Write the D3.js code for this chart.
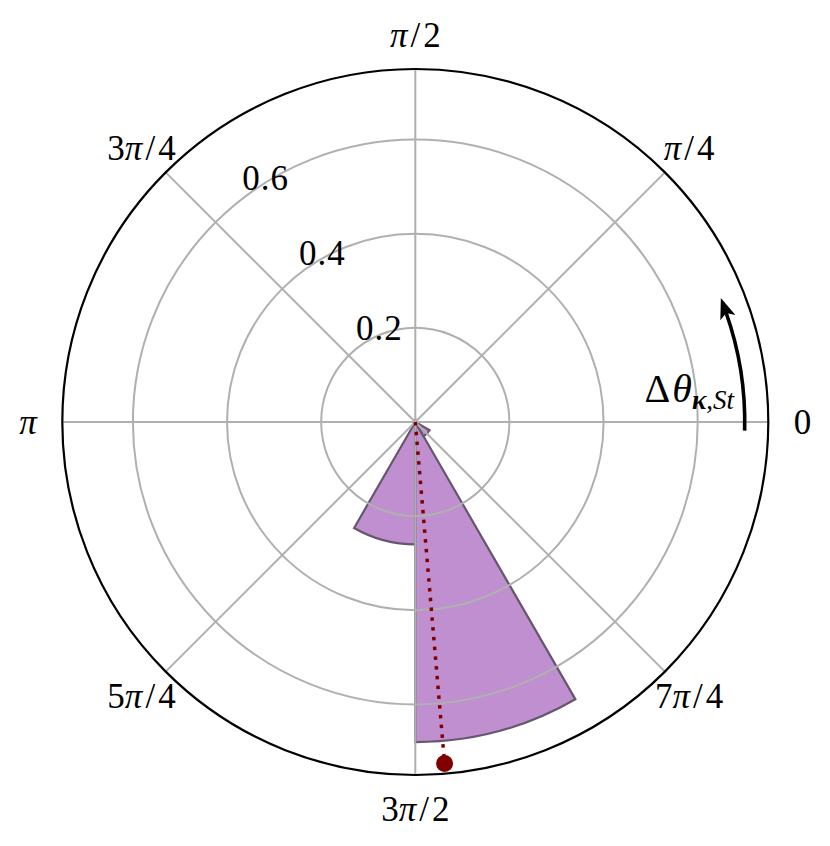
<!DOCTYPE html>
<html>
<head>
<meta charset="utf-8">
<script src="https://cdn.jsdelivr.net/npm/d3@7"></script>
<style>
  html, body { margin: 0; padding: 0; background: #fff; }
  svg { display: block; }
  text { font-family: "Liberation Serif", "DejaVu Serif", serif; fill: #000; }
</style>
</head>
<body>
<div id="chart"></div>
<script>
// ---- data ----
const binStartsDeg = [0, 30, 60, 90, 120, 150, 180, 210, 240, 270, 300, 330];
const binWidthDeg = 30;
const binValues = [0, 0, 0, 0, 0, 0, 0, 0, 0.26, 0.68, 0.035, 0];
const angleTicksDeg = [0, 45, 90, 135, 180, 225, 270, 315];
const angleTickLabels = ["0", "π/4", "π/2", "3π/4", "π", "5π/4", "3π/2", "7π/4"];
const radialTicks = [0.2, 0.4, 0.6];
const radialTickLabels = ["0.2", "0.4", "0.6"];
const rMax = 0.75;
const meanAngleDeg = 274.9;
const meanR = 0.728;
const arrowR = 0.70;
const arrowFromDeg = -1.5;
const arrowToDeg = 19.5;

// ---- layout ----
const W = 830, H = 846;
const cx = 415.3, cy = 422, R = 353;
const deg = Math.PI / 180;

const svg = d3.select("#chart").append("svg").attr("width", W).attr("height", H);
const g = svg.append("g").attr("transform", `translate(${cx},${cy})`);

const r = d3.scaleLinear().domain([0, rMax]).range([0, R]);
const px = (thDeg, v) => r(v) * Math.cos(thDeg * deg);
const py = (thDeg, v) => -r(v) * Math.sin(thDeg * deg);

// bars
const arc = d3.arc()
  .innerRadius(0)
  .outerRadius(d => r(d.v))
  .startAngle(d => Math.PI / 2 - (d.a + binWidthDeg) * deg)
  .endAngle(d => Math.PI / 2 - d.a * deg);

const bins = binStartsDeg.map((a, i) => ({ a, v: binValues[i] })).filter(d => d.v > 0);
g.append("g").selectAll("path").data(bins).join("path")
  .attr("d", arc)
  .attr("fill", "#bf8fcf")
  .attr("stroke", "#66566e")
  .attr("stroke-width", 2.2)
  .attr("stroke-linejoin", "miter");

// grid circles
g.append("g").selectAll("circle").data(radialTicks).join("circle")
  .attr("r", d => r(d))
  .attr("fill", "none")
  .attr("stroke", "#b0b0b0")
  .attr("stroke-width", 2);

// spokes
g.append("g").selectAll("line").data(angleTicksDeg).join("line")
  .attr("x1", 0).attr("y1", 0)
  .attr("x2", d => px(d, rMax)).attr("y2", d => py(d, rMax))
  .attr("stroke", "#b0b0b0")
  .attr("stroke-width", 2);

// outer spine
g.append("circle").attr("r", r(rMax)).attr("fill", "none")
  .attr("stroke", "#000").attr("stroke-width", 2.2);

// mean direction line + marker
g.append("line")
  .attr("x1", 0).attr("y1", 0)
  .attr("x2", px(meanAngleDeg, rMax)).attr("y2", py(meanAngleDeg, rMax))
  .attr("stroke", "#800000")
  .attr("stroke-width", 3.5)
  .attr("stroke-dasharray", "3.5,6.3");
g.append("circle")
  .attr("cx", px(meanAngleDeg, meanR)).attr("cy", py(meanAngleDeg, meanR))
  .attr("r", 8.5).attr("fill", "#800000");

// angle tick labels
const labR = rMax * 1.097;
g.append("g").selectAll("text").data(angleTicksDeg).join("text")
  .attr("x", d => px(d, labR))
  .attr("y", d => py(d, labR))
  .attr("dy", "0.35em")
  .attr("text-anchor", "middle")
  .attr("font-size", 35)
  .each(function(d, i) {
    const t = d3.select(this);
    const parts = angleTickLabels[i].split("π");
    if (parts.length === 1) { t.text(parts[0]); return; }
    t.append("tspan").text(parts[0]);
    t.append("tspan").attr("font-style", "italic").text("π");
    const rest = parts[1].split("/");
    if (rest.length > 1) {
      t.append("tspan").attr("dx", 3).text("/");
      t.append("tspan").attr("dx", 3).text(rest[1]);
    } else {
      t.append("tspan").text(parts[1]);
    }
  });

// radial tick labels
const rLabAngle = 127.2;
g.append("g").selectAll("text").data(radialTicks).join("text")
  .attr("x", d => px(rLabAngle, d) + 21)
  .attr("y", d => py(rLabAngle, d) - 19)
  .attr("dy", "0.35em")
  .attr("text-anchor", "middle")
  .attr("font-size", 35)
  .attr("letter-spacing", 1)
  .text((d, i) => radialTickLabels[i]);

// curved arrow
const defs = svg.append("defs");
defs.append("marker")
  .attr("id", "head")
  .attr("markerUnits", "userSpaceOnUse")
  .attr("markerWidth", 40).attr("markerHeight", 40)
  .attr("viewBox", "-10 -20 40 40")
  .attr("refX", 0).attr("refY", 0)
  .attr("orient", "auto")
  .append("path")
  .attr("d", "M-6,-8 L15,0 L-6,8 L-1,0 Z")
  .attr("fill", "#000");

const p = d3.path();
p.arc(0, 0, r(arrowR), -arrowFromDeg * deg, -arrowToDeg * deg, true);
g.append("path")
  .attr("d", p.toString())
  .attr("fill", "none")
  .attr("stroke", "#000")
  .attr("stroke-width", 3.6)
  .attr("marker-end", "url(#head)");

// arrow label
const lab = svg.append("text")
  .attr("x", 734).attr("y", 402)
  .attr("text-anchor", "end")
  .attr("font-size", 40);
lab.append("tspan").text("Δ");
lab.append("tspan").attr("font-style", "italic").attr("dx", 2).text("θ");
lab.append("tspan").attr("font-size", 27).attr("font-style", "italic").attr("font-weight", "bold").attr("dy", 7).text("κ");
lab.append("tspan").attr("font-size", 27).text(",");
lab.append("tspan").attr("font-size", 27).attr("font-style", "italic").text("St");
</script>
</body>
</html>
